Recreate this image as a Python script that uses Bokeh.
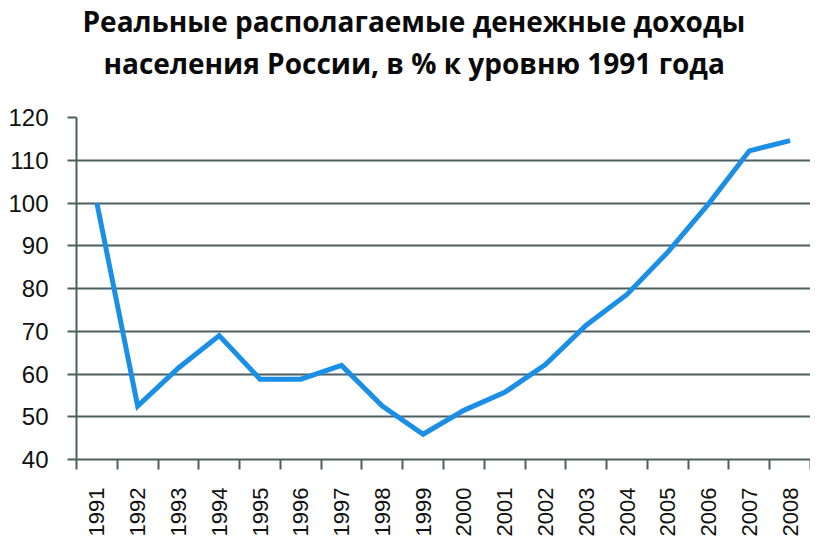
from bokeh.plotting import figure
from bokeh.models import FactorRange, Range1d, LinearAxis, FixedTicker, Title
from bokeh.embed import file_html
from bokeh.resources import INLINE

# ---- data ----
years = ["1991", "1992", "1993", "1994", "1995", "1996", "1997", "1998", "1999",
         "2000", "2001", "2002", "2003", "2004", "2005", "2006", "2007", "2008"]
income = [100.0, 52.5, 61.4, 69.0, 58.8, 58.8, 62.0, 52.5, 45.9,
          51.5, 55.7, 62.2, 71.4, 78.6, 88.5, 99.8, 112.2, 114.6]
title_line1 = "Реальные располагаемые денежные доходы"
title_line2 = "населения России, в % к уровню 1991 года"
y_ticks = [40, 50, 60, 70, 80, 90, 100, 110, 120]

GRID = "#4d5f5f"
LINE = "#1b8fe6"

p = figure(width=810, height=539, x_range=FactorRange(*years),
           y_range=Range1d(40, 120), x_axis_type=None,
           output_backend="svg", toolbar_location=None,
           min_border_left=76, min_border_right=0, min_border_bottom=0,
           min_border_top=117)
p.title = None
p.outline_line_color = None
p.background_fill_color = "white"
p.border_fill_color = "white"

p.line(x=years, y=income, line_color=LINE, line_width=5, line_join="miter")

# x axis: labels at category centres, ticks at category boundaries
n = len(years)
centres = [i + 0.5 for i in range(n)]
bounds = [float(i) for i in range(n + 1)]
xax = LinearAxis(ticker=FixedTicker(ticks=centres, minor_ticks=bounds),
                 major_label_overrides={c: y for c, y in zip(centres, years)})
xax.major_label_orientation = 1.5707963267948966
xax.major_tick_out = 10
xax.major_tick_in = 0
xax.major_tick_line_color = None
xax.minor_tick_out = 10
xax.minor_tick_in = 0
xax.minor_tick_line_color = GRID
xax.minor_tick_line_width = 2
xax.axis_line_color = GRID
xax.axis_line_width = 2
xax.major_label_standoff = 18
xax.major_label_text_font = "Liberation Sans"
xax.major_label_text_font_size = "22px"
xax.major_label_text_color = "#111111"
p.add_layout(xax, "below")

yax = p.yaxis[0]
yax.ticker = FixedTicker(ticks=y_ticks)
yax.major_tick_out = 9
yax.major_tick_in = 0
yax.major_tick_line_color = GRID
yax.major_tick_line_width = 2
yax.minor_tick_line_color = None
yax.axis_line_color = GRID
yax.axis_line_width = 2
yax.major_label_standoff = 19
yax.major_label_text_font = "Liberation Sans"
yax.major_label_text_font_size = "24px"
yax.major_label_text_color = "#111111"

p.ygrid.ticker = FixedTicker(ticks=y_ticks)
p.ygrid.grid_line_color = GRID
p.ygrid.grid_line_width = 2
p.xgrid.grid_line_color = None

t2 = Title(text=title_line2, align="left", offset=27, standoff=71.6,
           text_font="Open Sans", text_font_style="bold",
           text_font_size="28px", text_color="#0a0a0a")
t1 = Title(text=title_line1, align="left", offset=6, standoff=-69.8,
           text_font="Open Sans", text_font_style="bold",
           text_font_size="28px", text_color="#0a0a0a")
p.add_layout(t2, "above")
p.add_layout(t1, "above")

open("out.html", "w").write(file_html(p, INLINE))
